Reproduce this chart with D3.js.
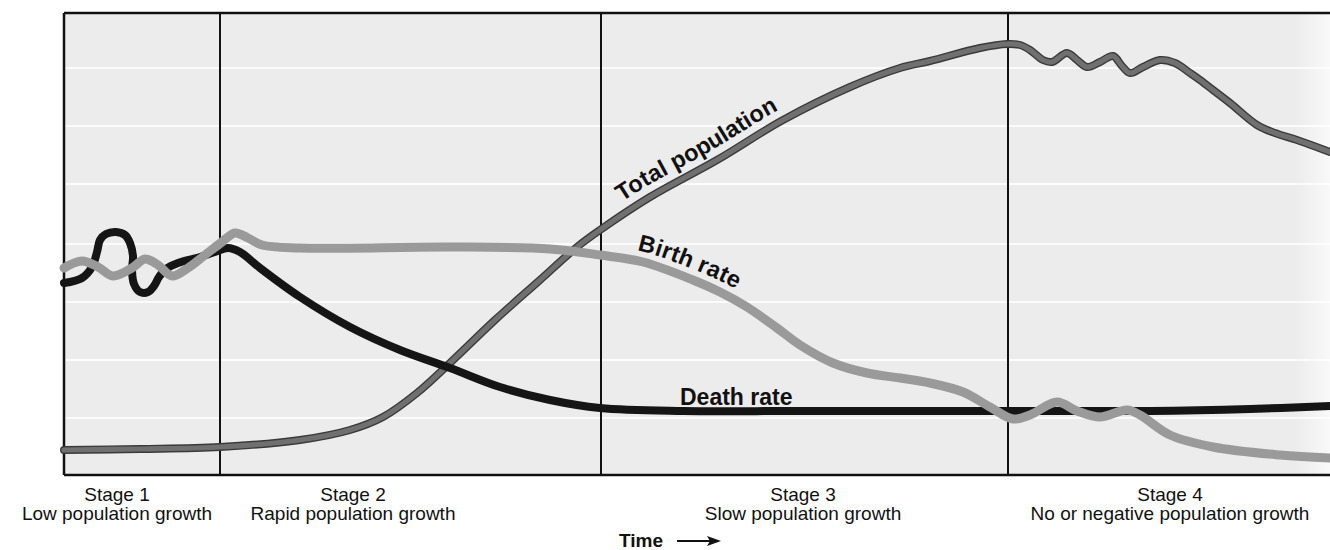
<!DOCTYPE html>
<html>
<head>
<meta charset="utf-8">
<script src="https://cdn.jsdelivr.net/npm/d3@7/dist/d3.min.js"></script>
<style>
  html, body { margin: 0; padding: 0; background: #ffffff; }
  svg { display: block; }
  text { font-family: "Liberation Sans", Arial, Helvetica, sans-serif; fill: #111; }
</style>
</head>
<body>
<svg id="chart" width="1330" height="550"></svg>
<script>
// ---- Data (time units, value units; arbitrary scale of the schematic) ----
const stageStarts = [0, 156, 537, 944];
const stageNames = ["Stage 1", "Stage 2", "Stage 3", "Stage 4"];
const stageDescriptions = ["Low population growth", "Rapid population growth", "Slow population growth", "No or negative population growth"];
const stageLabelTimes = [53, 289, 739, 1106];
const gridValues = [57, 115, 173, 231, 291, 349, 407];
const timeDomain = [0, 1266];
const valueDomain = [0, 462];

const totalPopulation = [
  [0,25],[76,26],[156,28],[236,35],[286,45],[319,58],[353,82],[386,112],[431,155],[476,195],
  [513,228],[536,245],[586,278],[653,315],[719,355],[786,388],[836,407],[866,414],[916,427],
  [943,431],[956,430],[966,425],[979,415],[988,413],[1003,422],[1013,415],[1023,408],[1036,413],
  [1049,419],[1058,409],[1066,402],[1079,408],[1096,415],[1111,412],[1126,402],[1136,395],
  [1149,385],[1166,372],[1193,350],[1211,342],[1233,335],[1266,323]
];
const birthRate = [
  [0,207],[18,214],[34,208],[49,199],[68,207],[81,216],[94,210],[108,199],[124,207],[141,220],
  [158,233],[171,242],[184,237],[198,230],[236,227],[386,228],[486,226],[536,220],[579,213],
  [629,195],[656,183],[683,168],[713,147],[736,130],[769,112],[803,102],[836,97],[866,92],
  [899,83],[926,68],[949,56],[966,60],[993,73],[1013,64],[1036,58],[1063,65],[1076,60],
  [1106,40],[1149,28],[1216,20],[1266,17]
];
const deathRate = [
  [0,192],[18,197],[28,208],[33,223],[36,235],[42,241],[52,243],[61,240],[66,232],[69,219],
  [68,205],[70,191],[76,183],[84,183],[90,189],[95,198],[102,206],[114,212],[136,218],[151,223],
  [164,227],[176,223],[196,207],[236,178],[286,148],[336,125],[386,107],[436,88],[486,75],
  [536,67],[619,64],[736,64],[936,64],[1086,64],[1186,66],[1266,69]
];
const curveLabels = [
  { text: "Total population", series: "pop", startTime: 564, dy: -11 },
  { text: "Birth rate", series: "birth", startTime: 570, dy: -10 }
];
const deathLabel = { text: "Death rate", time: 616, value: 70 };
const axisTitle = "Time";

// ---- Scales ----
const svg = d3.select("#chart");
const x = d3.scaleLinear().domain(timeDomain).range([64, 1330]);
const y = d3.scaleLinear().domain(valueDomain).range([475, 13]);

const defs = svg.append("defs");
const grad = defs.append("linearGradient").attr("id", "curl").attr("x1", 0).attr("x2", 1).attr("y1", 0).attr("y2", 0);
grad.append("stop").attr("offset", "0%").attr("stop-color", "#fff").attr("stop-opacity", 0);
grad.append("stop").attr("offset", "100%").attr("stop-color", "#fff").attr("stop-opacity", 0.7);

// plot background
svg.append("rect")
  .attr("x", x(timeDomain[0])).attr("y", y(valueDomain[1]))
  .attr("width", x(timeDomain[1]) - x(timeDomain[0]))
  .attr("height", y(valueDomain[0]) - y(valueDomain[1]))
  .attr("fill", "#ececec");

// grid lines
svg.append("g").selectAll("line").data(gridValues).join("line")
  .attr("x1", x(timeDomain[0])).attr("x2", x(timeDomain[1]))
  .attr("y1", d => y(d)).attr("y2", d => y(d))
  .attr("stroke", "#fbfbfb").attr("stroke-width", 2);

// page curl whitening on right edge
svg.append("rect").attr("x", 1295).attr("y", 0).attr("width", 35).attr("height", 550).attr("fill", "url(#curl)");

// frame
svg.append("line").attr("x1", x(0)).attr("x2", x(timeDomain[1])).attr("y1", y(valueDomain[1])).attr("y2", y(valueDomain[1]))
  .attr("stroke", "#111").attr("stroke-width", 2.5);
svg.append("line").attr("x1", x(0)).attr("x2", x(timeDomain[1])).attr("y1", y(0)).attr("y2", y(0))
  .attr("stroke", "#111").attr("stroke-width", 2.5);
svg.append("g").selectAll("line").data(stageStarts).join("line")
  .attr("x1", d => x(d)).attr("x2", d => x(d))
  .attr("y1", y(valueDomain[1])).attr("y2", y(0))
  .attr("stroke", "#111").attr("stroke-width", (d, i) => i === 0 ? 2.5 : 2);

// curves
const line = d3.line().x(d => x(d[0])).y(d => y(d[1])).curve(d3.curveCatmullRom.alpha(0.5));

svg.append("path").attr("id", "pop-outline").attr("d", line(totalPopulation))
  .attr("fill", "none").attr("stroke", "#3a3a3a").attr("stroke-width", 8).attr("stroke-linejoin", "round").attr("stroke-linecap", "round");
svg.append("path").attr("id", "pop").attr("d", line(totalPopulation))
  .attr("fill", "none").attr("stroke", "#707070").attr("stroke-width", 5.2).attr("stroke-linejoin", "round").attr("stroke-linecap", "round");

svg.append("path").attr("id", "death").attr("d", line(deathRate))
  .attr("fill", "none").attr("stroke", "#151515").attr("stroke-width", 8).attr("stroke-linejoin", "round").attr("stroke-linecap", "round");

svg.append("path").attr("id", "birth").attr("d", line(birthRate))
  .attr("fill", "none").attr("stroke", "#9a9a9a").attr("stroke-width", 9).attr("stroke-linejoin", "round").attr("stroke-linecap", "round");

// curve labels along paths
function lengthAtX(pathNode, px) {
  let lo = 0, hi = pathNode.getTotalLength();
  for (let k = 0; k < 40; k++) {
    const mid = (lo + hi) / 2;
    if (pathNode.getPointAtLength(mid).x < px) lo = mid; else hi = mid;
  }
  return lo;
}
curveLabels.forEach(lb => {
  const node = document.getElementById(lb.series);
  const off = lengthAtX(node, x(lb.startTime));
  svg.append("text")
    .attr("font-size", 23.5).attr("font-weight", "bold").attr("dy", lb.dy)
    .append("textPath").attr("href", "#" + lb.series).attr("startOffset", off)
    .text(lb.text);
});

svg.append("text").attr("x", x(deathLabel.time)).attr("y", y(deathLabel.value))
  .attr("font-size", 23).attr("font-weight", "bold").text(deathLabel.text);

// stage labels
const stageG = svg.append("g").selectAll("g").data(stageNames).join("g");
stageG.append("text").attr("x", (d, i) => x(stageLabelTimes[i])).attr("y", 501)
  .attr("text-anchor", "middle").attr("font-size", 19).text(d => d);
stageG.append("text").attr("x", (d, i) => x(stageLabelTimes[i])).attr("y", 520)
  .attr("text-anchor", "middle").attr("font-size", 19).text((d, i) => stageDescriptions[i]);

// axis title with arrow
svg.append("text").attr("x", 619).attr("y", 547).attr("font-size", 19).attr("font-weight", "bold").text(axisTitle);
svg.append("line").attr("x1", 677).attr("x2", 712).attr("y1", 541).attr("y2", 541).attr("stroke", "#111").attr("stroke-width", 2);
svg.append("path").attr("d", "M721,541 L707,536 L710,541 L707,546 Z").attr("fill", "#111");
</script>
</body>
</html>
